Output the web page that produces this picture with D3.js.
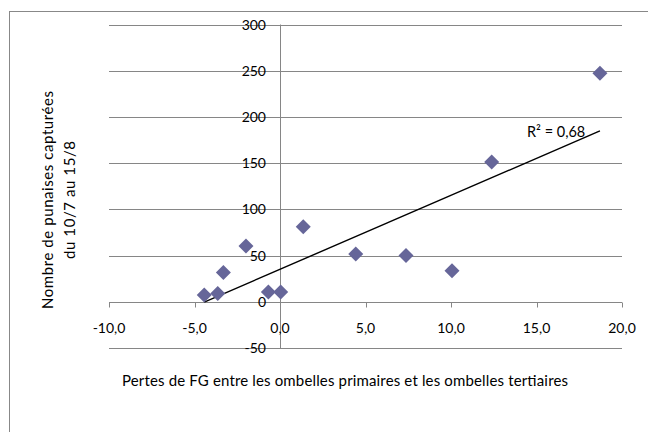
<!DOCTYPE html>
<html><head><meta charset="utf-8">
<script src="https://cdn.jsdelivr.net/npm/d3@7"></script>
<style>body{margin:0;background:#fff;}svg{display:block;font-family:Lato,"Open Sans",sans-serif;}</style>
</head><body>
<svg id="c" width="648" height="432"></svg>
<script>
const xValues = [-4.43, -3.64, -3.31, -1.99, -0.68, 0.04, 1.36, 4.43, 7.37, 10.06, 12.38, 18.71];
const yValues = [7.3, 9.0, 31.8, 60.3, 10.5, 10.5, 81.2, 51.6, 50.2, 33.5, 151.2, 247.2];
const xTicks = [-10, -5, 0, 5, 10, 15, 20];
const yTicks = [-50, 0, 50, 100, 150, 200, 250, 300];
const r2Label = "R² = 0,68";
const xTitle = "Pertes de FG entre les ombelles primaires et les ombelles tertiaires";
const yTitle = ["Nombre de punaises capturées", "du 10/7 au 15/8"];

const svg = d3.select("#c");
const x = d3.scaleLinear().domain([-10, 20]).range([109, 622]);
const y = d3.scaleLinear().domain([-50, 300]).range([348, 24.5]);
const grid = "#868686";
const fmtX = v => d3.format(".1f")(v).replace(".", ",").replace("−", "-");

// outer border
svg.append("rect").attr("x", 9.5).attr("y", 11.5).attr("width", 700).attr("height", 500)
  .attr("fill", "none").attr("stroke", "#888").attr("stroke-width", 1);

// gridlines
svg.append("g").selectAll("line").data(yTicks).join("line")
  .attr("x1", x(-10)).attr("x2", x(20))
  .attr("y1", d => Math.round(y(d)) + 0.5).attr("y2", d => Math.round(y(d)) + 0.5)
  .attr("stroke", grid).attr("stroke-width", 1);

// y axis at x=0
svg.append("line").attr("x1", Math.round(x(0)) + 0.5).attr("x2", Math.round(x(0)) + 0.5)
  .attr("y1", y(300)).attr("y2", y(-50)).attr("stroke", grid);

// x axis at y=0 with ticks
const xa = svg.append("g").attr("transform", `translate(0,${Math.round(y(0)) + 0.5})`);
xa.selectAll("line.t").data(xTicks).join("line").attr("class", "t")
  .attr("x1", d => Math.round(x(d)) + 0.5).attr("x2", d => Math.round(x(d)) + 0.5)
  .attr("y1", 0).attr("y2", 5).attr("stroke", grid);
xa.selectAll("text").data(xTicks).join("text")
  .attr("x", d => x(d)).attr("y", 30).attr("text-anchor", "middle")
  .attr("font-size", 14).attr("fill", "#000").text(d => fmtX(d));

// y tick labels
svg.append("g").selectAll("text").data(yTicks).join("text")
  .attr("x", 266).attr("y", d => y(d) + 5).attr("text-anchor", "end")
  .attr("font-size", 14).attr("fill", "#000").text(d => String(d));

// trendline (least squares)
const mx = d3.mean(xValues), my = d3.mean(yValues);
let sxy = 0, sxx = 0;
xValues.forEach((v, i) => { sxy += (v - mx) * (yValues[i] - my); sxx += (v - mx) * (v - mx); });
const slope = sxy / sxx, icpt = my - slope * mx;
const x0 = d3.min(xValues), x1 = d3.max(xValues);
svg.append("line").attr("x1", x(x0)).attr("y1", y(slope * x0 + icpt))
  .attr("x2", x(x1)).attr("y2", y(slope * x1 + icpt))
  .attr("stroke", "#000").attr("stroke-width", 1.4);

// points
const rD = 7.5;
svg.append("g").selectAll("path").data(xValues.map((v, i) => [v, yValues[i]])).join("path")
  .attr("transform", d => `translate(${x(d[0])},${y(d[1])})`)
  .attr("d", `M0,${-rD}L${rD},0L0,${rD}L${-rD},0Z`)
  .attr("fill", "#666699");

// R2 label
svg.append("text").attr("x", 527).attr("y", 137).attr("font-size", 14.5).attr("fill", "#000").text(r2Label);

// axis titles
svg.append("text").attr("x", 345).attr("y", 386).attr("text-anchor", "middle")
  .attr("font-size", 15).attr("textLength", 446).attr("lengthAdjust", "spacing")
  .attr("fill", "#000").text(xTitle);
const yLens = [218, 118];
yTitle.forEach((t, i) => {
  svg.append("text").attr("transform", `translate(${53 + i * 22},200) rotate(-90)`)
    .attr("text-anchor", "middle").attr("font-size", 15)
    .attr("textLength", yLens[i]).attr("lengthAdjust", "spacing")
    .attr("fill", "#000").text(t);
});
</script>
</body></html>
